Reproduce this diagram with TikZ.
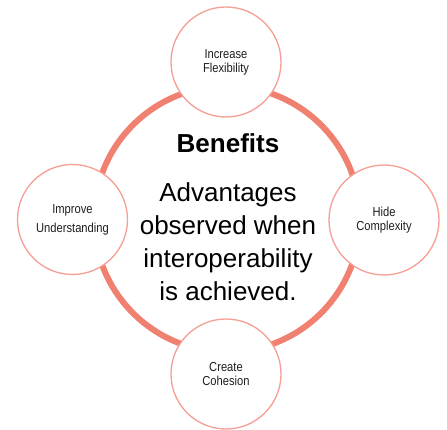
\documentclass[tikz,border=0pt]{standalone}
\usepackage{fontspec}
\setmainfont{Liberation Sans}
\newfontfamily\smallfont[FakeStretch=0.86]{Liberation Sans}
\usepackage{tikz}
\usetikzlibrary{calc}

\definecolor{ringred}{RGB}{240,128,112}
\definecolor{rimred}{RGB}{244,158,148}
\definecolor{labelgray}{RGB}{30,30,30}

\begin{document}
\begin{tikzpicture}[x=1pt,y=-1pt,
        benefit/.style={circle,draw=rimred,line width=1.3pt,fill=white,minimum size=110pt,
            inner sep=0pt,align=center,text=labelgray,font={\smallfont\fontsize{13}{14}\selectfont}}]
            \useasboundingbox (0,0) rectangle (447,430);

            \coordinate (hub) at (227,219);
            \draw[ringred,line width=6pt] (hub) circle (133pt);

            \node[benefit] (flex) at (226,62) {Increase\\Flexibility};
            \node[benefit] (understand) at (72.5,219.5) {Improve\\[5pt]Understanding};
            \node[benefit] (complex) at (384,220) {Hide\\Complexity};
            \node[benefit] (cohesion) at (226,374) {Create\\Cohesion};

            \node[anchor=base,font={\bfseries\fontsize{26}{30}\selectfont}] (title) at (228,153) {Benefits};
            \node[align=center,inner sep=0pt,font={\fontsize{26}{33}\selectfont}] (advantages) at (228,242)
                {Advantages\\observed when\\interoperability\\is achieved.};
        \end{tikzpicture}
\end{document}
